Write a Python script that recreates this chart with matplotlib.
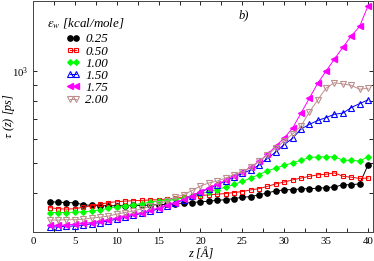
import matplotlib
matplotlib.use("Agg")
from matplotlib import pyplot as plt
from matplotlib.ticker import MultipleLocator, LogLocator, NullFormatter, LogFormatterSciNotation

plt.rcParams['font.family'] = ['Liberation Serif', 'DejaVu Serif']
plt.rcParams['mathtext.fontset'] = 'stix'

z = list(range(2, 41))

# tau(z) in ps for each eps_w
tau_025 = [375, 374, 373, 372, 367, 365, 364, 364, 364, 364, 365, 365, 366, 367, 368, 370, 371, 373, 375,
           377, 379, 381, 384, 388, 390, 395, 401, 407, 410, 411, 413, 414, 415, 417, 419, 426, 426, 429, 494]
tau_050 = [359, 356, 355, 356, 360, 364, 368, 373, 375, 377, 378, 379, 380, 381, 383, 385, 388, 390, 393,
           395, 397, 399, 402, 405, 410, 414, 421, 429, 435, 442, 448, 454, 459, 461, 466, 454, 451, 447, 448]
tau_100 = [346, 346, 346, 347, 348, 350, 353, 357, 361, 364, 367, 370, 374, 377, 379, 382, 386, 392, 398,
           405, 411, 419, 427, 437, 448, 460, 473, 483, 493, 502, 512, 523, 525, 525, 526, 512, 512, 509, 526]
tau_150 = [310, 311, 312, 313, 315, 318, 321, 325, 329, 334, 339, 344, 349, 356, 364, 372, 380, 392, 404,
           414, 426, 438, 452, 464, 476, 494, 519, 545, 576, 604, 647, 670, 690, 705, 723, 729, 760, 783, 805]
tau_175 = [314, 314, 315, 317, 319, 321, 324, 328, 332, 337, 341, 346, 352, 358, 365, 373, 382, 393, 405,
           416, 427, 440, 455, 469, 485, 508, 535, 570, 605, 652, 729, 815, 912, 1000, 1094, 1194, 1300, 1396, 1629]
tau_200 = [327, 327, 328, 328, 329, 332, 334, 337, 342, 346, 350, 356, 362, 369, 378, 388, 396, 408, 422,
           432, 438, 448, 460, 469, 487, 508, 533, 561, 592, 624, 662, 735, 805, 880, 916, 907, 898, 872, 878]

labels = ['0.25', '0.50', '1.00', '1.50', '1.75', '2.00']

fig = plt.figure(figsize=(3.74, 2.61), dpi=100)
ax = fig.add_axes([33 / 374, 1 - 232 / 261, 340 / 374, 231 / 261])

lw = 0.7
ax.plot(z, tau_025, color='black', marker='o', ms=3.8, lw=lw, label=labels[0])
ax.plot(z, tau_050, color='red', marker='s', ms=3.4, mfc='none', mew=0.8, lw=lw, label=labels[1])
ax.plot(z, tau_100, color='#00ff00', marker='D', ms=2.8, lw=lw, label=labels[2])
ax.plot(z, tau_150, color='blue', marker='^', ms=3.8, mfc='none', mew=0.8, lw=lw, label=labels[3])
ax.plot(z, tau_175, color='magenta', marker='<', ms=3.8, lw=lw, label=labels[4])
ax.plot(z, tau_200, color='#bc8f8f', marker='v', ms=3.8, mfc='none', mew=0.8, lw=lw, label=labels[5])

ax.set_yscale('log')
ax.set_xlim(0, 40.6)
ax.set_ylim(299, 1690)

ax.xaxis.set_major_locator(MultipleLocator(5))
ax.xaxis.set_minor_locator(MultipleLocator(2.5))
ax.yaxis.set_major_locator(LogLocator(base=10))
ax.yaxis.set_major_formatter(LogFormatterSciNotation())
ax.yaxis.set_minor_locator(LogLocator(base=10, subs=range(2, 10)))
ax.yaxis.set_minor_formatter(NullFormatter())
ax.tick_params(which='both', direction='in', top=True, right=True, labelsize=7.8, width=0.6)
ax.tick_params(which='major', length=3)
ax.tick_params(which='minor', length=3)
for s in ax.spines.values():
    s.set_linewidth(0.7)
    s.set_color('#444444')

ax.set_xlabel('z [Å]', style='italic', fontsize=9)
ax.xaxis.set_label_coords(0.494, -0.07)
ax.set_ylabel(r'$\tau$ (z) [ps]', style='italic', fontsize=8.8)
ax.yaxis.set_label_coords(-0.047, 0.5)

ax.text(24.6, 1480, 'b)', style='italic', fontsize=9)

ax.text(0.041, 0.887, r'$\varepsilon_w$ [kcal/mole]', transform=ax.transAxes,
        style='italic', fontsize=9.4, va='baseline')
ax.legend(loc='upper left', bbox_to_anchor=(0.096, 0.86), frameon=False, numpoints=2,
          prop={'style': 'italic', 'size': 9.4}, handlelength=1.1,
          handletextpad=0.4, labelspacing=0.0, borderpad=0, borderaxespad=0)

fig.savefig('out.png', dpi=100)
